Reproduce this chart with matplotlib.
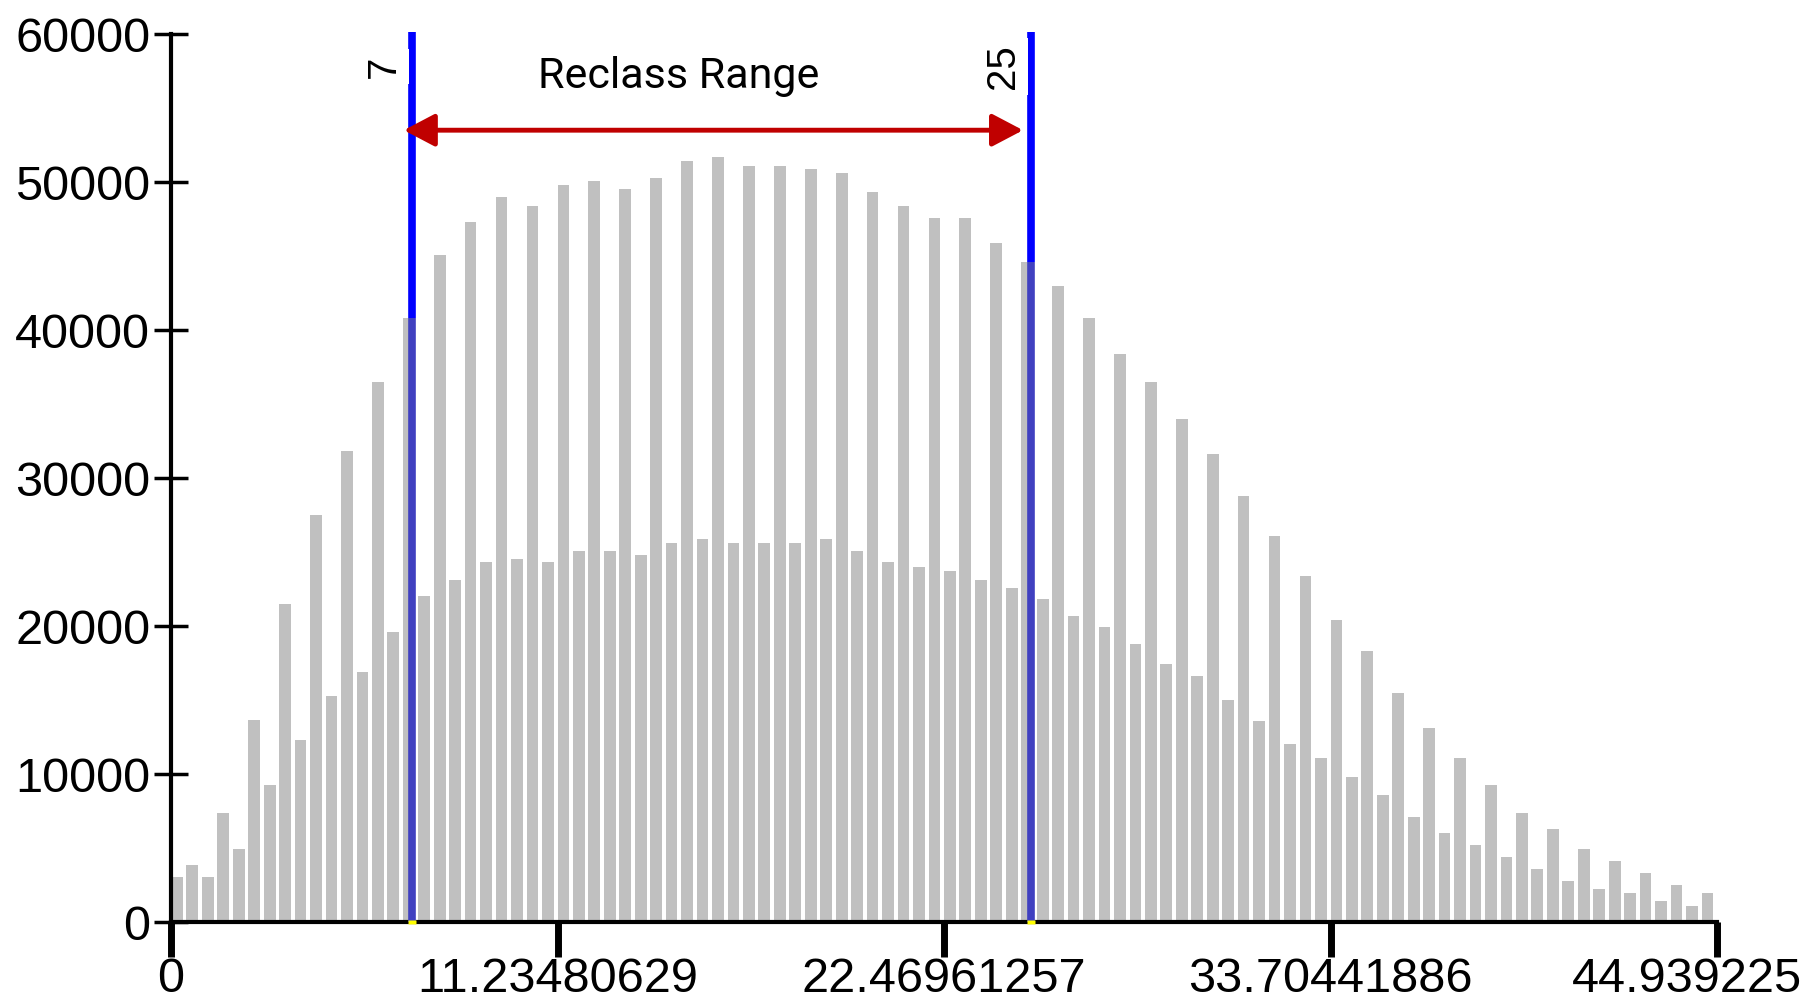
import numpy as np
import matplotlib
matplotlib.use("Agg")
import matplotlib.pyplot as plt
import matplotlib.transforms as mtransforms
from matplotlib.patches import FancyArrowPatch

# ---------------- data ----------------
x_min = 0.0
x_max = 44.939225
counts = [
    3050, 3850, 3050, 7350, 4950, 13650, 9250, 21500, 12300, 27500,
    15300, 31800, 16900, 36500, 19600, 40800, 22000, 45100, 23100, 47300,
    24300, 49000, 24500, 48400, 24300, 49800, 25100, 50100, 25100, 49500,
    24800, 50300, 25600, 51400, 25900, 51700, 25600, 51100, 25600, 51100,
    25600, 50900, 25900, 50600, 25100, 49300, 24300, 48400, 24000, 47600,
    23700, 47600, 23100, 45900, 22600, 44600, 21800, 43000, 20700, 40800,
    19900, 38400, 18800, 36500, 17400, 34000, 16600, 31600, 15000, 28800,
    13600, 26100, 12000, 23400, 11100, 20400, 9800, 18300, 8600, 15500,
    7100, 13100, 6000, 11100, 5200, 9250, 4400, 7350, 3600, 6300,
    2800, 4900, 2200, 4100, 1950, 3300, 1400, 2500, 1100, 1950,
]
reclass_low = 7
reclass_high = 25
reclass_title = "Reclass Range"
y_ticks = [0, 10000, 20000, 30000, 40000, 50000, 60000]
x_tick_values = [0, 11.23480629, 22.46961257, 33.70441886, 44.939225]
x_tick_labels = ["0", "11.23480629", "22.46961257", "33.70441886", "44.939225"]
arrow_level = 53500
label_level = 57800
title_x = 14.75
title_level = 56350
line_top = 60150

# ---------------- style ----------------
plt.rcParams["font.family"] = ["Liberation Sans", "DejaVu Sans"]
bar_color = "#C0C0C0"
blue = "#0000FF"
blue_over = "#4040C0"
red = "#C00000"

fig = plt.figure(figsize=(18.12, 10), dpi=100)
W, H = 1812, 1000
ax = fig.add_axes([171 / W, 78 / H, (1717 - 171) / W, (922 - 34) / H])

n = len(counts)
w = (x_max - x_min) / n
edges = x_min + w * np.arange(n)
ax.bar(edges, counts, width=w * 0.76, align="edge", color=bar_color,
       linewidth=0, zorder=1)

ax.set_xlim(x_min, x_max)
ax.set_ylim(0, 60000)

for s in ("top", "right"):
    ax.spines[s].set_visible(False)
for s in ("left", "bottom"):
    ax.spines[s].set_linewidth(3)
    ax.spines[s].set_color("black")
    ax.spines[s].set_zorder(2.5)

ax.set_yticks(y_ticks)
ax.set_yticklabels([str(v) for v in y_ticks])
ax.set_xticks(x_tick_values)
ax.set_xticklabels(x_tick_labels)
ax.tick_params(axis="y", direction="inout", length=24, width=2.5, pad=3,
               labelsize=35, colors="black")
ax.tick_params(axis="x", direction="out", length=25, width=5, pad=0,
               labelsize=35, colors="black")

# shift last x label left so it stays inside the image
lab = ax.get_xticklabels()[-1]
lab.set_transform(lab.get_transform() +
                  mtransforms.ScaledTranslation(-30 / 100, 0, fig.dpi_scale_trans))

# reclass boundary lines
yellow_marker = [(-1, -0.5), (1, -0.5), (1, 0.5), (-1, 0.5)]
for v in (reclass_low, reclass_high):
    idx = int((v - x_min) // w)
    h = counts[idx]
    ax.plot([v, v], [0, h], color=blue_over, lw=5.5, solid_capstyle="butt",
            zorder=4)
    ax.plot([v, v], [h, line_top], color=blue, lw=5.5, solid_capstyle="butt",
            zorder=4, clip_on=False)
    ax.plot([v], [0], marker=yellow_marker, ms=5.8, mfc="yellow", mec="none",
            zorder=5, clip_on=False)
    ax.annotate(str(v), xy=(v, label_level), xytext=(-9, 0),
                textcoords="offset pixels", rotation=90, ha="right",
                va="center", fontsize=29, color="black",
                bbox=dict(boxstyle="square,pad=0.15", fc="white", ec="none"),
                zorder=6, annotation_clip=False)

# double-headed range arrow
shift = mtransforms.ScaledTranslation(-8 / 100, 0, fig.dpi_scale_trans)
arrow = FancyArrowPatch((reclass_low, arrow_level), (reclass_high, arrow_level),
                        arrowstyle="<|-|>,head_length=0.95,head_width=0.5",
                        mutation_scale=20, color=red, lw=3.5,
                        shrinkA=0, shrinkB=0, zorder=5,
                        transform=ax.transData + shift)
ax.add_patch(arrow)

ax.text(title_x, title_level, reclass_title, ha="center", va="baseline",
        fontsize=31, color="black",
        family=["Roboto", "DejaVu Sans"], zorder=6)

fig.savefig("out.png", dpi=100, facecolor="white")
